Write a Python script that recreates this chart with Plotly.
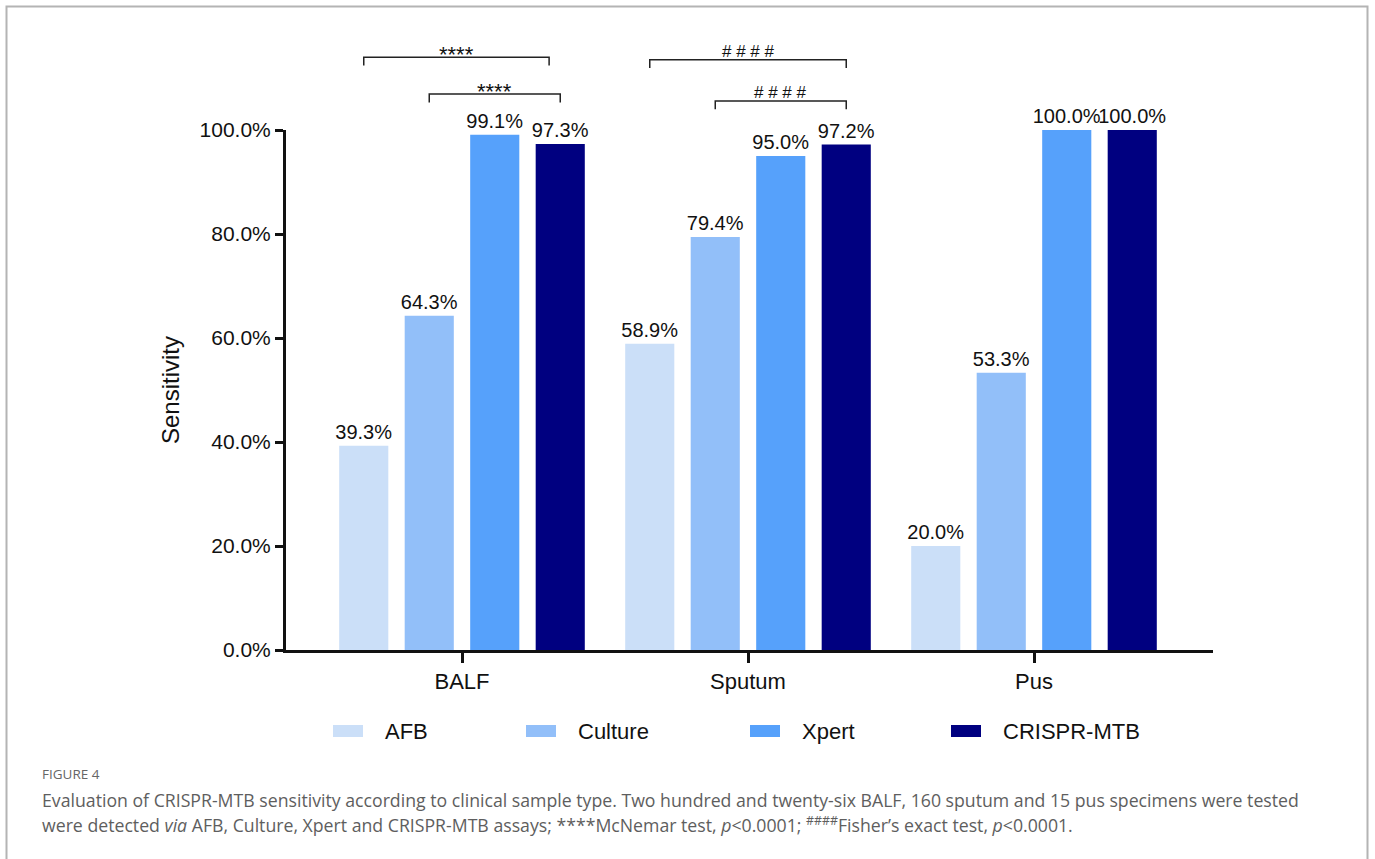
import plotly.graph_objects as go

# ---- data -------------------------------------------------------------
sample_types = ["BALF", "Sputum", "Pus"]
assays = ["AFB", "Culture", "Xpert", "CRISPR-MTB"]
afb = [39.3, 58.9, 20.0]
culture = [64.3, 79.4, 53.3]
xpert = [99.1, 95.0, 100.0]
crispr_mtb = [97.3, 97.2, 100.0]
y_tick_values = [0, 20, 40, 60, 80, 100]
y_tick_labels = ["0.0%", "20.0%", "40.0%", "60.0%", "80.0%", "100.0%"]

# significance brackets: sample index, left/right bar slot, symbol
bracket_sample = [0, 0, 1, 1]
bracket_left = [0, 1, 0, 1]
bracket_right = [2.83, 3, 3, 3]
bracket_symbol = ["****", "****", "# # # #", "# # # #"]
bracket_level = [114.0, 106.9, 113.5, 105.6]

colors = ["#CBDFF8", "#92BFF9", "#56A1FB", "#000080"]
series = [afb, culture, xpert, crispr_mtb]

# ---- layout geometry --------------------------------------------------
W, H = 1375, 859
ML, MR, MT, MB = 286, 162, 130, 209
PW, PH = W - ML - MR, H - MT - MB
BARGAP = 0.084
SLOT = (1 - BARGAP) / len(assays)
X_RANGE = [-(176 / 286), -(176 / 286) + PW / 286]

FONT = "Liberation Sans, Arial, sans-serif"
CAPTION_FONT = "Open Sans, sans-serif"


def px_x(px):
    return (px - ML) / PW


def px_y(py):
    return (H - MB - py) / PH


def data_x_paper(x):
    return (x - X_RANGE[0]) / (X_RANGE[1] - X_RANGE[0])


def slot_center(sample, slot):
    return sample + (slot - (len(assays) - 1) / 2) * SLOT


fig = go.Figure()
for name, vals, col in zip(assays, series, colors):
    fig.add_trace(go.Bar(
        name=name, x=sample_types, y=vals,
        marker=dict(color=col, line=dict(width=0)),
        texttemplate="%{y:.1f}%", textposition="outside",
        textfont=dict(family=FONT, size=20, color="#111111"),
        cliponaxis=False, constraintext="none",
        showlegend=False,
    ))

shapes = []
annotations = []

# card border
shapes.append(dict(type="rect", xref="paper", yref="paper",
                   x0=px_x(6.5), x1=px_x(1367.5), y0=px_y(880), y1=px_y(6.5),
                   line=dict(color="#B4B4B4", width=2), fillcolor="rgba(0,0,0,0)",
                   layer="below"))

# significance brackets
for s, a, b, sym, lev in zip(bracket_sample, bracket_left, bracket_right,
                             bracket_symbol, bracket_level):
    xa = data_x_paper(slot_center(s, a))
    xb = data_x_paper(slot_center(s, b))
    ytop = lev / 100
    ylow = (lev - 1.6) / 100
    shapes.append(dict(type="path", xref="paper", yref="paper",
                       path=f"M {xa},{ylow} L {xa},{ytop} L {xb},{ytop} L {xb},{ylow}",
                       line=dict(color="#222222", width=1.5)))
    # asterisks sit high in their glyph box, so they get a lower anchor
    star = sym.startswith("*")
    annotations.append(dict(xref="paper", yref="paper", x=(xa + xb) / 2,
                            y=ytop + (3 if star else 8.5) / PH, text=sym,
                            showarrow=False, xanchor="center", yanchor="middle",
                            font=dict(family=FONT, size=22 if star else 17,
                                      color="#111111")))

# legend
legend_left = [333, 526, 750, 951]
for name, col, lx in zip(assays, colors, legend_left):
    shapes.append(dict(type="rect", xref="paper", yref="paper",
                       x0=px_x(lx), x1=px_x(lx + 30), y0=px_y(737), y1=px_y(725),
                       line=dict(width=0), fillcolor=col))
    annotations.append(dict(xref="paper", yref="paper", x=px_x(lx + 50),
                            y=px_y(731), text=name, showarrow=False,
                            xanchor="left", yanchor="middle",
                            font=dict(family=FONT, size=22, color="#111111")))

# figure caption
annotations.append(dict(xref="paper", yref="paper", x=px_x(40), y=px_y(774),
                        text="FIGURE 4", showarrow=False, xanchor="left",
                        yanchor="middle",
                        font=dict(family=CAPTION_FONT, size=13.5, color="#666666")))
annotations.append(dict(
    xref="paper", yref="paper", x=px_x(40), y=px_y(800), showarrow=False,
    xanchor="left", yanchor="middle",
    text=("Evaluation of CRISPR-MTB sensitivity according to clinical sample type. "
          "Two hundred and twenty-six BALF, 160 sputum and 15 pus specimens were tested"),
    font=dict(family=CAPTION_FONT, size=17.7, color="#5E5E5E")))
annotations.append(dict(
    xref="paper", yref="paper", x=px_x(40), y=px_y(824), showarrow=False,
    xanchor="left", yanchor="middle",
    text=("were detected <i>via</i> AFB, Culture, Xpert and CRISPR-MTB assays; "
          "****McNemar test, <i>p</i>&lt;0.0001; <sup>####</sup>Fisher\u2019s exact test, "
          "<i>p</i>&lt;0.0001."),
    font=dict(family=CAPTION_FONT, size=17.7, color="#5E5E5E")))

fig.update_layout(
    width=W, height=H,
    margin=dict(l=ML, r=MR, t=MT, b=MB, autoexpand=False),
    paper_bgcolor="white", plot_bgcolor="white",
    barmode="group", bargap=BARGAP, bargroupgap=0.25,
    showlegend=False,
    font=dict(family=FONT, color="#111111"),
    shapes=shapes, annotations=annotations,
    xaxis=dict(
        range=X_RANGE, showgrid=False, zeroline=False,
        showline=True, linecolor="#111111", linewidth=3,
        ticks="outside", ticklen=10, tickwidth=3, tickcolor="#111111",
        tickfont=dict(family=FONT, size=22, color="#111111"),
    ),
    yaxis=dict(
        range=[0, 100], showgrid=False, zeroline=False,
        showline=True, linecolor="#111111", linewidth=3,
        ticks="outside", ticklen=8, tickwidth=3, tickcolor="#111111",
        tickvals=y_tick_values, ticktext=y_tick_labels,
        tickfont=dict(family=FONT, size=21, color="#111111"),
        title=dict(text="Sensitivity", standoff=14,
                   font=dict(family=FONT, size=24, color="#111111")),
    ),
)

fig.write_html("out.html")
